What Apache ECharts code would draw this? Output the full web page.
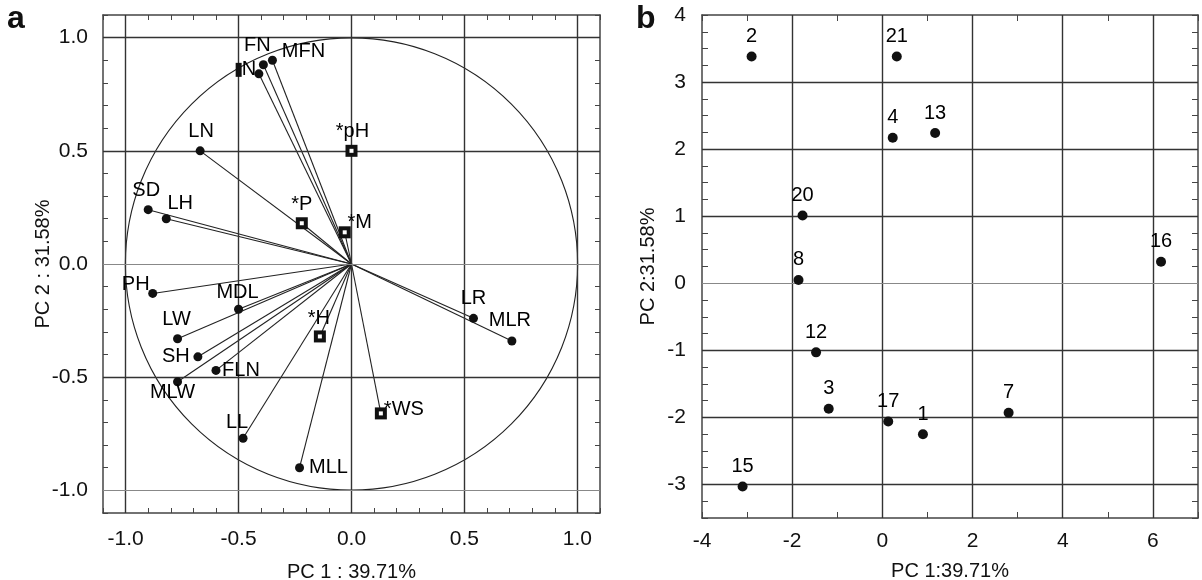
<!DOCTYPE html>
<html>
<head>
<meta charset="utf-8">
<script src="https://cdn.jsdelivr.net/npm/echarts@6/dist/echarts.min.js"></script>
<style>
html,body{margin:0;padding:0;background:#fff;}
#chart{width:1202px;height:580px;}
</style>
</head>
<body>
<div id="chart"></div>
<script>
// ---- Panel a: variable loadings (circles) ----
const loadingNames = ['N','FN','MFN','LN','SD','LH','PH','MDL','LW','SH','FLN','MLW','LL','MLL','LR','MLR'];
const loadingPC1 = [-0.41,-0.39,-0.35,-0.67,-0.90,-0.82,-0.88,-0.50,-0.77,-0.68,-0.60,-0.77,-0.48,-0.23,0.54,0.71];
const loadingPC2 = [0.84,0.88,0.90,0.50,0.24,0.20,-0.13,-0.20,-0.33,-0.41,-0.47,-0.52,-0.77,-0.90,-0.24,-0.34];
// ---- Panel a: environmental variables (squares) ----
const envNames = ['*pH','*P','*M','*H','*WS'];
const envPC1 = [0.00,-0.22,-0.03,-0.14,0.13];
const envPC2 = [0.50,0.18,0.14,-0.32,-0.66];
// ---- Panel b: sample scores ----
const sampleNames = ['1','2','3','4','7','8','12','13','15','16','17','20','21'];
const samplePC1 = [0.90,-2.90,-1.19,0.23,2.80,-1.86,-1.47,1.17,-3.10,6.18,0.13,-1.77,0.32];
const samplePC2 = [-2.25,3.38,-1.87,2.17,-1.93,0.05,-1.03,2.24,-3.03,0.32,-2.06,1.01,3.38];
// ---- Axis ticks / grid lines ----
const gridAX = [-1.0,-0.5,0.0,0.5,1.0];
const gridAYDark = [1.0,0.5,-0.5];
const gridAYLight = [0.0,-1.0];
const gridBX = [-2,0,2,4,6];
const gridBYDark = [3,2,1,-1,-2,-3];
const gridBYLight = [0];
const axisTitleA_X = 'PC 1 : 39.71%';
const axisTitleA_Y = 'PC 2 : 31.58%';
const axisTitleB_X = 'PC 1:39.71%';
const axisTitleB_Y = 'PC 2:31.58%';

// label offsets (style only)
const labelOffsetA = {
  'N':[-13,-4],'FN':[-6,-19],'MFN':[31,-9],'LN':[1,-19],'SD':[-2,-19],'LH':[14,-15],
  'PH':[-17,-9],'MDL':[-1,-17],'LW':[-1,-19],'SH':[-22,0],'FLN':[25,0],'MLW':[-5,11],
  'LL':[-6,-16],'MLL':[29,0],'LR':[0,-20],'MLR':[-2,-20],
  '*pH':[1,-19],'*P':[0,-19],'*M':[15,-10],'*H':[-1,-18],'*WS':[23,-4]
};

const FONT = '"Liberation Sans", Arial, Helvetica, sans-serif';
const INK = '#000';
const GRIDDARK = '#333';
const GRIDLIGHT = '#888';

function isMult(v, step){ const r = v/step; return Math.abs(r-Math.round(r)) < 1e-6; }

const chart = echarts.init(document.getElementById('chart'), null, {renderer:'canvas'});

function frameAxis(base){
  return Object.assign({
    type:'value',
    axisLine:{show:true, onZero:false, lineStyle:{color:'#444', width:1.5}},
    axisTick:{show:true, inside:true, length:5, lineStyle:{color:'#444', width:1}},
    splitLine:{show:false},
    minorTick:{show:false},
    axisLabel:{show:false}
  }, base);
}

const labA = v => isMult(v,0.5) ? (Math.abs(v)<1e-9 ? '0.0' : v.toFixed(1)) : '';
const labBX = v => isMult(v,2) ? String(Math.round(v)) : '';
const labBY = v => isMult(v,1) ? String(Math.round(v)) : '';
const tickLabelStyle = {show:true, color:'#111', fontFamily:FONT, fontSize:21};
const titleStyle = {color:'#111', fontFamily:FONT, fontSize:20};

const xAxes = [
  frameAxis({gridIndex:0, position:'bottom', min:-1.1, max:1.1, interval:0.1,
    axisLabel:Object.assign({formatter:labA, margin:16}, tickLabelStyle),
    name:axisTitleA_X, nameLocation:'middle', nameGap:49, nameTextStyle:titleStyle}),
  frameAxis({gridIndex:0, position:'top', min:-1.1, max:1.1, interval:0.1}),
  frameAxis({gridIndex:1, position:'bottom', min:-4, max:7, interval:1,
    axisTick:{show:true, inside:true, length:6, lineStyle:{color:'#444', width:1}},
    axisLabel:Object.assign({formatter:labBX, margin:13}, tickLabelStyle),
    name:axisTitleB_X, nameLocation:'middle', nameGap:43, nameTextStyle:titleStyle}),
  frameAxis({gridIndex:1, position:'top', min:-4, max:7, interval:1,
    axisTick:{show:true, inside:true, length:6, lineStyle:{color:'#444', width:1}}})
];
const yAxes = [
  frameAxis({gridIndex:0, position:'left', min:-1.1, max:1.1, interval:0.1,
    axisLabel:Object.assign({formatter:labA, margin:15}, tickLabelStyle),
    name:axisTitleA_Y, nameLocation:'middle', nameGap:50, nameRotate:90,
    nameMoveOverlap:false, nameTextStyle:titleStyle}),
  frameAxis({gridIndex:0, position:'right', min:-1.1, max:1.1, interval:0.1}),
  frameAxis({gridIndex:1, position:'left', min:-3.5, max:4, interval:0.25,
    axisTick:{show:true, inside:true, length:6, lineStyle:{color:'#444', width:1}},
    axisLabel:Object.assign({formatter:labBY, margin:16}, tickLabelStyle),
    name:axisTitleB_Y, nameLocation:'middle', nameGap:44, nameRotate:90, nameTextStyle:titleStyle}),
  frameAxis({gridIndex:1, position:'right', min:-3.5, max:4, interval:0.25,
    axisTick:{show:true, inside:true, length:6, lineStyle:{color:'#444', width:1}}})
];

function gridLines(xs, ysDark, ysLight){
  const d = [];
  xs.forEach(v => d.push({xAxis:v, lineStyle:{color:GRIDDARK, width:1.4, type:'solid'}}));
  ysDark.forEach(v => d.push({yAxis:v, lineStyle:{color:GRIDDARK, width:1.4, type:'solid'}}));
  ysLight.forEach(v => d.push({yAxis:v, lineStyle:{color:GRIDLIGHT, width:1, type:'solid'}}));
  return d;
}

const lblA = (name) => {
  const l = {
    show:true, position:'inside', offset:labelOffsetA[name] || [0,-18],
    formatter:name, color:INK, fontFamily:FONT, fontSize:20, align:'center', verticalAlign:'middle'
  };
  if (name === 'N') {
    l.formatter = '{sq|}' + name;
    l.rich = {sq:{width:6, height:14, backgroundColor:'#111'}};
  }
  return l;
};

const series = [
  {type:'scatter', xAxisIndex:0, yAxisIndex:0, data:[], silent:true, z:1,
   markLine:{silent:true, symbol:'none', label:{show:false}, animation:false,
     data:gridLines(gridAX, gridAYDark, gridAYLight)}},
  {type:'scatter', xAxisIndex:2, yAxisIndex:2, data:[], silent:true, z:1,
   markLine:{silent:true, symbol:'none', label:{show:false}, animation:false,
     data:gridLines(gridBX, gridBYDark, gridBYLight)}},
  {type:'lines', coordinateSystem:'cartesian2d', xAxisIndex:0, yAxisIndex:0, z:3, silent:true,
   lineStyle:{color:'#222', width:1.1, opacity:1},
   data: loadingNames.map((n,i)=>({coords:[[0,0],[loadingPC1[i],loadingPC2[i]]]}))
     .concat(envNames.map((n,i)=>({coords:[[0,0],[envPC1[i],envPC2[i]]]})))},
  {type:'scatter', xAxisIndex:0, yAxisIndex:0, z:5, symbol:'circle', symbolSize:9,
   itemStyle:{color:'#111', opacity:1},
   data: loadingNames.map((n,i)=>({value:[loadingPC1[i],loadingPC2[i]], label:lblA(n)}))},
  {type:'scatter', xAxisIndex:0, yAxisIndex:0, z:5, symbol:'rect', symbolSize:12,
   itemStyle:{color:'#111', opacity:1},
   data: envNames.map((n,i)=>({value:[envPC1[i],envPC2[i]], label:lblA(n)}))},
  {type:'scatter', xAxisIndex:0, yAxisIndex:0, z:6, symbol:'rect', symbolSize:4,
   itemStyle:{color:'#fff', opacity:1}, silent:true,
   data: envNames.map((n,i)=>[envPC1[i],envPC2[i]])},
  {type:'scatter', xAxisIndex:2, yAxisIndex:2, z:5, symbol:'circle', symbolSize:10,
   itemStyle:{color:'#111', opacity:1},
   label:{show:true, position:'top', distance:5, formatter:p=>p.name,
     color:INK, fontFamily:FONT, fontSize:20},
   data: sampleNames.map((n,i)=>({name:n, value:[samplePC1[i],samplePC2[i]]}))}
];

const letters = [
  {type:'text', left:7, top:3, style:{text:'a', font:'bold 32px '+FONT, fill:'#111'}},
  {type:'text', left:636, top:3, style:{text:'b', font:'bold 32px '+FONT, fill:'#111'}}
];

chart.setOption({
  animation:false,
  backgroundColor:'#fff',
  grid:[
    {left:103, top:15, width:497, height:498, outerBoundsMode:'none', containLabel:false},
    {left:702, top:15, width:496, height:503, outerBoundsMode:'none', containLabel:false}
  ],
  xAxis:xAxes,
  yAxis:yAxes,
  series:series,
  graphic:letters
});

// unit correlation circle drawn through the library's scale
const c0 = chart.convertToPixel({xAxisIndex:0, yAxisIndex:0}, [0,0]);
const cx1 = chart.convertToPixel({xAxisIndex:0, yAxisIndex:0}, [1,0]);
const cy1 = chart.convertToPixel({xAxisIndex:0, yAxisIndex:0}, [0,1]);
const r = ((cx1[0]-c0[0]) + (c0[1]-cy1[1]))/2;
chart.setOption({
  graphic: letters.concat([
    {type:'circle', z:2, silent:true, shape:{cx:c0[0], cy:c0[1], r:r},
     style:{fill:'none', stroke:'#222', lineWidth:1.1}}
  ])
});
</script>
</body>
</html>
